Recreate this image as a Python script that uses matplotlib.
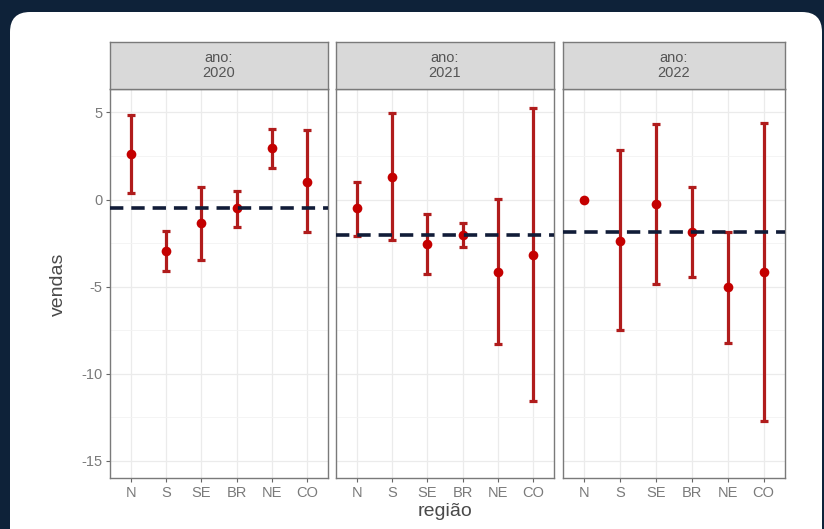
import matplotlib
matplotlib.use("Agg")
import matplotlib.pyplot as plt
from matplotlib.patches import FancyBboxPatch
from matplotlib.ticker import MultipleLocator

plt.rcParams['font.family'] = ['Liberation Sans', 'DejaVu Sans']
plt.rcParams['axes.unicode_minus'] = False

regions = ["N", "S", "SE", "BR", "NE", "CO"]
years = [2020, 2021, 2022]

mean_2020 = [2.6, -2.94, -1.37, -0.49, 2.94, 1.02]
low_2020 = [0.37, -4.09, -3.48, -1.56, 1.79, -1.89]
high_2020 = [4.86, -1.79, 0.74, 0.51, 4.03, 3.99]

mean_2021 = [-0.5, 1.31, -2.56, -2.02, -4.15, -3.19]
low_2021 = [-2.1, -2.33, -4.28, -2.71, -8.3, -11.56]
high_2021 = [1.02, 4.99, -0.83, -1.33, 0.03, 5.28]

mean_2022 = [0.0, -2.37, -0.26, -1.89, -5.05, -4.19]
low_2022 = [0.0, -7.5, -4.88, -4.43, -8.27, -12.71]
high_2022 = [0.0, 2.84, 4.32, 0.74, -1.89, 4.38]

y_ticks = [5, 0, -5, -10, -15]
y_tick_labels = ["5", "0", "-5", "-10", "-15"]

means = [mean_2020, mean_2021, mean_2022]
lows = [low_2020, low_2021, low_2022]
highs = [high_2020, high_2021, high_2022]

W, H = 824, 529
fig = plt.figure(figsize=(W / 100, H / 100), dpi=100)
fig.patch.set_facecolor("#0e2239")

card = FancyBboxPatch((0.10, -0.4), 8.12, 5.17 + 0.4, boxstyle="round,pad=0,rounding_size=0.2",
                      transform=fig.dpi_scale_trans, facecolor="white", edgecolor="none", zorder=-10)
fig.patches.append(card)


def px_axes(x0, y0, x1, y1):
    return fig.add_axes([x0 / W, 1 - y1 / H, (x1 - x0) / W, (y1 - y0) / H])


panels = [(110, 328), (336, 554), (563, 785)]
ptop, pbot = 89, 478
stop = 42

border = "#7a7a7a"
for i, (x0, x1) in enumerate(panels):
    ax = px_axes(x0, ptop, x1, pbot)
    ax.set_facecolor("white")
    xs = list(range(len(regions)))
    ax.set_xlim(-0.6, len(regions) - 1 + 0.6)
    ax.set_ylim(-16.0, 6.35)
    ax.yaxis.set_major_locator(MultipleLocator(5))
    ax.yaxis.set_minor_locator(MultipleLocator(2.5))
    ax.set_yticks(y_ticks)
    ax.grid(True, which="major", color="#ebebeb", lw=0.9, zorder=0)
    ax.grid(True, which="minor", axis="y", color="#f3f3f3", lw=0.6, zorder=0)
    ax.set_axisbelow(True)
    ax.set_xticks(xs)
    ax.set_xticklabels(regions, fontsize=10.5, color="#7a7a7a")
    ax.tick_params(axis="both", which="major", length=3, width=0.8, color="#666666", pad=2.5)
    ax.tick_params(axis="y", which="minor", length=0)
    if i == 0:
        ax.set_yticklabels(y_tick_labels, fontsize=10.5, color="#7a7a7a")
    else:
        ax.tick_params(axis="y", which="major", length=0, labelleft=False)
    for s in ax.spines.values():
        s.set_color(border)
        s.set_linewidth(1.0)

    m, lo, hi = means[i], lows[i], highs[i]
    yerr = [[mm - l for mm, l in zip(m, lo)], [h - mm for mm, h in zip(m, hi)]]
    ax.errorbar(xs, m, yerr=yerr, fmt="none", ecolor="#b01c1c", elinewidth=2.3,
                capsize=3.0, capthick=2.3, zorder=3)
    ax.plot(xs, m, "o", color="#c40000", markersize=7, zorder=4, markeredgewidth=0)
    ref = m[regions.index("BR")]
    ax.axhline(ref, color="#111c38", lw=2.6, dashes=(3.7, 2.2), zorder=5)

    sax = px_axes(x0, stop, x1, ptop)
    sax.set_facecolor("#d9d9d9")
    sax.set_xticks([])
    sax.set_yticks([])
    for s in sax.spines.values():
        s.set_color(border)
        s.set_linewidth(1.0)
    sax.text(0.5, 0.5, "ano:\n%d" % years[i], ha="center", va="center", fontsize=10.5,
             color="#555555", linespacing=1.05, transform=sax.transAxes)

fig.text(445 / W, 1 - 512 / H, "região", ha="center", va="center", fontsize=14, color="#4a4a4a")
fig.text(58 / W, 1 - 284 / H, "vendas", ha="center", va="center", rotation=90, fontsize=14, color="#4a4a4a")

fig.savefig("out.png", dpi=100, facecolor=fig.get_facecolor())
